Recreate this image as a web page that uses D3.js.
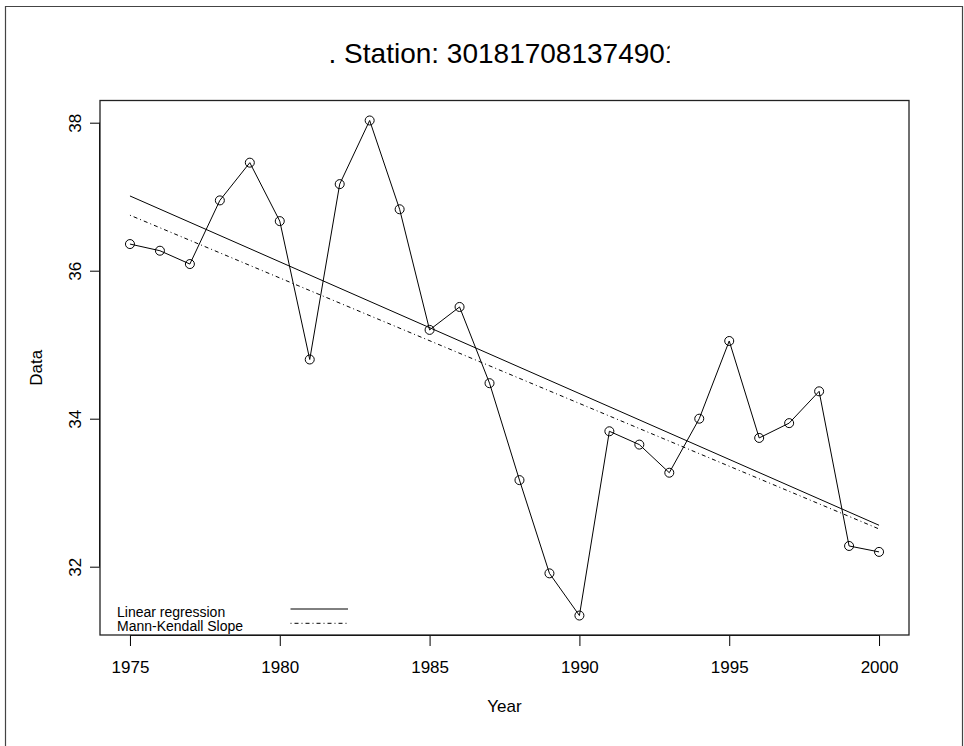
<!DOCTYPE html>
<html>
<head>
<meta charset="utf-8">
<script src="https://cdn.jsdelivr.net/npm/d3@7"></script>
<style>
  html, body { margin: 0; padding: 0; background: #fff; }
  svg { display: block; font-family: "Liberation Sans", Arial, Helvetica, sans-serif; }
</style>
</head>
<body>
<svg id="chart" width="964" height="746"></svg>
<script>
// ---- data ----
const titleText = ". Station: 301817081374901";
const years = [1975,1976,1977,1978,1979,1980,1981,1982,1983,1984,1985,1986,1987,
               1988,1989,1990,1991,1992,1993,1994,1995,1996,1997,1998,1999,2000];
const values = [36.36,36.27,36.09,36.95,37.46,36.67,34.80,37.17,38.03,36.83,35.20,35.51,34.48,
                33.17,31.91,31.34,33.83,33.65,33.27,34.00,35.05,33.74,33.94,34.37,32.28,32.20];
const trendYears = [1975, 2000];
const regressionValues = [37.01, 32.56];
const mannKendallValues = [36.75, 32.51];
const xTicks = [1975, 1980, 1985, 1990, 1995, 2000];
const yTicks = [32, 34, 36, 38];
const legendLabels = ["Linear regression", "Mann-Kendall Slope"];
const xLabel = "Year";
const yLabel = "Data";

// ---- layout ----
const svg = d3.select("#chart");
const plot = {left: 100, right: 909, top: 100.5, bottom: 635};
const FONT = "Liberation Sans, Arial, sans-serif";

const x = d3.scaleLinear().domain([1974, 2001]).range([plot.left, plot.right]);
const y = d3.scaleLinear().domain([31.077, 38.30]).range([plot.bottom, plot.top]);

// outer frame
svg.append("path")
  .attr("d", "M5.5,760 L5.5,6.5 L962.5,6.5 L962.5,760")
  .attr("fill", "none").attr("stroke", "#444").attr("stroke-width", 1.2);

// title (clipped on the right as in the reference)
const defs = svg.append("defs");
const titleG = svg.append("g");
const title = titleG.append("text")
  .attr("x", (plot.left + plot.right) / 2)
  .attr("y", 63)
  .attr("text-anchor", "middle")
  .attr("font-size", 28)
  .attr("fill", "#000")
  .text(titleText);
const fullLen = title.node().getComputedTextLength();
const tmp = svg.append("text").attr("font-size", 28).text(titleText.slice(0, -1));
const partLen = tmp.node().getComputedTextLength();
tmp.remove();
const titleStart = (plot.left + plot.right) / 2 - fullLen / 2;
const clipX = titleStart + partLen + 0.17 * 28;
defs.append("clipPath").attr("id", "titleClip")
  .append("rect").attr("x", 0).attr("y", 0).attr("width", clipX).attr("height", 100);
titleG.attr("clip-path", "url(#titleClip)");

// x axis
const xAxis = d3.axisBottom(x).tickValues(xTicks).tickSize(11).tickPadding(15).tickFormat(d3.format("d"));
const gx = svg.append("g").attr("transform", `translate(0,${plot.bottom})`).call(xAxis);
gx.select(".domain").attr("d", `M${x(xTicks[0])},0.5H${x(xTicks[xTicks.length-1])}`).attr("stroke", "#000");
gx.selectAll(".tick line").attr("stroke", "#000");
gx.selectAll(".tick text").attr("font-size", 17).attr("fill", "#000").attr("font-family", FONT);

// y axis
const yAxis = d3.axisLeft(y).tickValues(yTicks).tickSize(10).tickFormat(d3.format("d"));
const gy = svg.append("g").attr("transform", `translate(${plot.left},0)`).call(yAxis);
gy.select(".domain").attr("d", `M-0.5,${y(yTicks[0])}V${y(yTicks[yTicks.length-1])}`).attr("stroke", "#000");
gy.selectAll(".tick line").attr("stroke", "#000");
gy.selectAll(".tick text")
  .attr("font-size", 17).attr("fill", "#000").attr("font-family", FONT)
  .attr("x", null).attr("dy", null)
  .attr("text-anchor", "middle")
  .attr("transform", "translate(-19,0) rotate(-90)");

// plot box
svg.append("rect")
  .attr("x", plot.left).attr("y", plot.top)
  .attr("width", plot.right - plot.left).attr("height", plot.bottom - plot.top)
  .attr("fill", "none").attr("stroke", "#222").attr("stroke-width", 1.3);

// axis labels
svg.append("text").attr("x", (plot.left + plot.right) / 2).attr("y", 712)
  .attr("text-anchor", "middle").attr("font-size", 17).text(xLabel);
svg.append("text")
  .attr("transform", `translate(42,${(plot.top + plot.bottom) / 2}) rotate(-90)`)
  .attr("text-anchor", "middle").attr("font-size", 17).text(yLabel);

// data series
const line = d3.line().x(d => x(d[0])).y(d => y(d[1]));
const pts = years.map((yr, i) => [yr, values[i]]);
svg.append("path").datum(pts).attr("d", line)
  .attr("fill", "none").attr("stroke", "#000").attr("stroke-width", 1);
svg.append("g").selectAll("circle").data(pts).join("circle")
  .attr("cx", d => x(d[0])).attr("cy", d => y(d[1])).attr("r", 4.5)
  .attr("fill", "none").attr("stroke", "#000").attr("stroke-width", 1);

// trend lines
svg.append("path").datum(trendYears.map((yr, i) => [yr, regressionValues[i]])).attr("d", line)
  .attr("fill", "none").attr("stroke", "#000").attr("stroke-width", 1);
svg.append("path").datum(trendYears.map((yr, i) => [yr, mannKendallValues[i]])).attr("d", line)
  .attr("fill", "none").attr("stroke", "#000").attr("stroke-width", 1)
  .attr("stroke-dasharray", "1,3,4,3");

// legend
const legend = svg.append("g");
const legendStyles = [null, "1,3,4,3"];
legendLabels.forEach((lab, i) => {
  const by = 616.5 + i * 14.3;
  legend.append("text").attr("x", 117).attr("y", by).attr("font-size", 14).text(lab);
  legend.append("line")
    .attr("x1", 290.5).attr("x2", 348).attr("y1", by - 7.5).attr("y2", by - 7.5)
    .attr("stroke", "#000").attr("stroke-width", 1)
    .attr("stroke-dasharray", legendStyles[i]);
});
</script>
</body>
</html>
